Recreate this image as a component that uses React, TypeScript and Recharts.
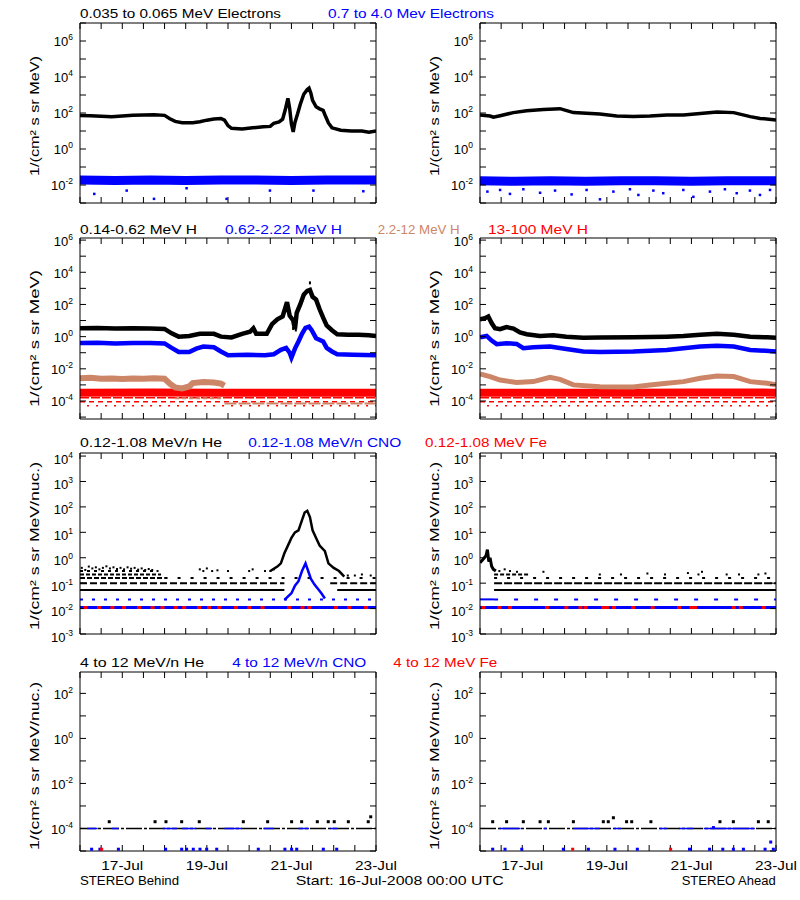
import React from 'react';
import { ComposedChart, Line, Scatter, XAxis, YAxis } from 'recharts';

type V = number | null;
type P = [number, V];

// ---------------- time axis: hours after Start 16-Jul-2008 00:00 UTC ----------------
const X_DOMAIN: [number, number] = [0, 168];
const X_TICK_HOURS = [0, 12, 24, 36, 48, 60, 72, 84, 96, 108, 120, 132, 144, 156, 168];
const X_LABEL_HOURS = [24, 72, 120, 168];
const X_LABELS = ['17-Jul', '19-Jul', '21-Jul', '23-Jul'];

// ---------------- y-axis decades per row ----------------
const R1_EXP = [-3, -2, -1, 0, 1, 2, 3, 4, 5, 6, 7];
const R1_LABEL_EXP = [-2, 0, 2, 4, 6];
const R2_EXP = [-5, -4, -3, -2, -1, 0, 1, 2, 3, 4, 5, 6];
const R2_LABEL_EXP = [-4, -2, 0, 2, 4, 6];
const R3_EXP = [-3, -2, -1, 0, 1, 2, 3, 4];
const R3_LABEL_EXP = [-3, -2, -1, 0, 1, 2, 3, 4];
const R4_EXP = [-5, -4, -3, -2, -1, 0, 1, 2];
const R4_LABEL_EXP = [-4, -2, 0, 2];

// ---------------- Row 1: electrons ----------------
const B_ELEC_LOW: P[] = [[0,72],[6,70],[12,66],[18,62],[24,68],[30,74],[36,78],[42,80],[48,74],[51,48],[54,34],[58,29],[64,29],[68,33],[72,40],[76,46],[80,50],[82,40],[84,20],[86,14],[92,13],[98,15],[104,17],[108,18],[110,27],[113,32],[115,45],[116.5,150],[118,650],[119,180],[120,25],[121,9],[122,30],[123.5,90],[125,300],[127,1100],[129,2000],[130,2400],[131,1300],[132,500],[134,220],[136,170],[138,140],[139,80],[141,28],[143,15],[148,11],[154,10],[160,10],[164,8.5],[168,10]];
const B_ELEC_HIGH: P[] = [[0,0.019],[20,0.018],[40,0.019],[60,0.018],[80,0.019],[100,0.019],[120,0.018],[140,0.019],[168,0.019]];
const B_ELEC_HIGH_OUT: P[] = [[8.1,0.0032],[26.5,0.0049],[42,0.0017],[60.5,0.0066],[83.2,0.0017],[107.8,0.0049],[132.5,0.0049],[160.8,0.0045]];
const A_ELEC_LOW: P[] = [[0,78],[5.7,68],[7.6,58],[11.4,71],[18.9,105],[26.5,135],[36,158],[45.4,174],[49.2,135],[53,105],[68,87],[77.6,68],[87,63],[96.5,68],[106,78],[115.5,78],[125,95],[134.5,115],[144,105],[153.4,63],[159,50],[168,41]];
const A_ELEC_HIGH: P[] = [[0,0.017],[20,0.016],[40,0.017],[60,0.016],[80,0.017],[100,0.017],[120,0.016],[140,0.017],[168,0.017]];
const A_ELEC_HIGH_OUT: P[] = [[4.2,0.0043],[11.4,0.0053],[17,0.0032],[24.6,0.0058],[34.1,0.0037],[42.6,0.0049],[52,0.003],[60.5,0.0053],[68.1,0.0016],[75.7,0.0043],[85.1,0.0058],[89.9,0.0028],[98.4,0.0049],[104,0.0035],[115.4,0.0053],[121.1,0.0022],[130.5,0.0043],[139,0.0058],[145.7,0.0035],[153.2,0.0049],[158.9,0.0028],[164.6,0.0053]];

// ---------------- Row 2: protons ----------------
const B_H_LOW: P[] = [[0,3.3],[10,3.5],[20,3.2],[30,3.3],[40,3.2],[48,3.0],[52,1.6],[56,1.0],[62,1.1],[68,1.5],[76,1.5],[80,1.0],[86,0.9],[92,1.5],[96.5,2.0],[98.4,3.3],[100,1.5],[106,1.5],[109,6],[112,12],[115,18],[116.5,60],[117.5,140],[119,20],[121,10],[122,3],[123,30],[125,100],[127,400],[129,700],[130.5,800],[132,300],[134,200],[136,50],[138,15],[140,5],[143,2.5],[146,1.4],[152,1.3],[158,1.3],[164,1.2],[168,1.1]];
const B_H_LOW_OUT: P[] = [[130.5,2200],[121,3.2],[122.5,2.6]];
const B_H_MID: P[] = [[0,0.4],[10,0.42],[20,0.38],[30,0.4],[40,0.4],[48,0.38],[52,0.2],[56,0.11],[62,0.11],[66,0.18],[70,0.24],[76,0.22],[80,0.12],[84,0.07],[95,0.075],[105,0.07],[110,0.08],[114,0.15],[117,0.2],[119,0.1],[120,0.05],[122,0.18],[124,0.5],[126,1.5],[128,3.5],[130,4.2],[131.5,2.5],[134,0.8],[138,0.5],[140,0.2],[143,0.12],[146,0.08],[155,0.075],[168,0.07]];
const B_H_HIGH: P[] = [[0,0.0026],[6,0.0028],[12,0.0024],[18,0.0025],[24,0.0023],[30,0.0025],[36,0.0024],[42,0.0026],[48,0.0024],[51,0.0012],[54,0.0007],[58,0.0006],[62,0.0008],[64,0.0013],[70,0.0015],[76,0.0014],[80,0.0012],[82,0.0009]];
const B_H_HIGH_FLOOR: P[] = [[82,7e-5],[168,7e-5]];
const B_H_HIGH_MID: P[] = [[54,1.5e-4],[82,1.5e-4]];
const B_H_VHIGH: P[] = [[0,3.3e-4],[40,3.4e-4],[80,3.2e-4],[120,3.3e-4],[168,3.3e-4]];
const B_H_VHIGH_L1: P[] = [[0,1.6e-4],[168,1.6e-4]];
const B_H_VHIGH_L2: P[] = [[0,9e-5],[168,9e-5]];
const B_H_VHIGH_L3: P[] = [[4,5e-5],[168,5e-5]];

const A_H_LOW: P[] = [[0,12],[2.8,14],[4.7,18],[6.6,7],[8.5,3.3],[11.4,2.9],[15,3.9],[19,3.2],[22.7,1.8],[26.5,1.4],[34,1.1],[41.6,1.2],[49,1.0],[58.6,0.86],[68,0.88],[87,0.91],[106,1.0],[115.5,1.1],[125,1.3],[134.5,1.5],[144,1.3],[153.4,1.0],[163,0.9],[168,0.86]];
const A_H_MID: P[] = [[0,0.9],[3.8,1.1],[6.6,0.57],[9.5,0.34],[15,0.39],[20.8,0.35],[24.6,0.19],[30.3,0.22],[39.7,0.24],[49,0.17],[58.6,0.12],[68,0.11],[87,0.12],[106,0.15],[115.5,0.19],[125,0.24],[134.5,0.27],[144,0.24],[153.4,0.15],[168,0.12]];
const A_H_HIGH: P[] = [[0,0.0048],[5.7,0.0033],[11.4,0.002],[20.8,0.0014],[30.3,0.0016],[39.7,0.003],[45.4,0.0022],[53,0.001],[68,0.00078],[87,0.00075],[96.5,0.001],[106,0.00126],[115.5,0.0016],[125,0.0026],[134.5,0.0036],[144,0.0033],[153.4,0.0016],[163,0.00126],[168,0.001]];
const A_H_VHIGH: P[] = [[0,3.3e-4],[40,3.2e-4],[80,3.3e-4],[120,3.4e-4],[168,3.3e-4]];
const A_H_VHIGH_L1: P[] = [[0,1.6e-4],[168,1.6e-4]];
const A_H_VHIGH_L2: P[] = [[0,9e-5],[168,9e-5]];
const A_H_VHIGH_L3: P[] = [[4,5e-5],[168,5e-5]];

// ---------------- Row 3: 0.12-1.08 MeV/n heavy ions ----------------
const B_HE_L1: P[] = [[0,0.054],[116,0.054],[116.5,null],[146,0.054],[168,0.054]];
const B_HE_L2: P[] = [[0,0.1],[116,0.1],[116.5,null],[142,0.1],[168,0.1]];
const B_HE_L3A: P[] = [[0,0.16],[48,0.16]];
const B_HE_L3B: P[] = [[48,0.16],[168,0.16]];
const B_HE_L4: P[] = [[0,0.22],[46,0.22]];
const B_HE_L5: P[] = [[0,0.3],[44,0.3]];
const B_HE_UPPER: P[] = [[1,0.4],[3,0.33],[5,0.45],[7,0.38],[9,0.42],[11,0.35],[13,0.4],[15,0.46],[17,0.38],[19,0.42],[21,0.36],[23,0.4],[25,0.35],[27,0.42],[29,0.37],[31,0.4],[33,0.34],[35,0.38],[37,0.33],[39,0.36],[41,0.33],[44,0.3],[68,0.35],[70,0.3],[72,0.38],[75,0.3],[78,0.32],[84,0.3],[96,0.3],[98,0.35],[105,0.3],[108,0.3],[110,0.35],[152,0.2],[156,0.2],[160,0.22],[165,0.2]];
const B_HE_PEAK: P[] = [[108,0.3],[112,0.45],[114,0.6],[116,1.5],[118,3],[120,6],[122,10],[124,12],[126,30],[127.5,60],[129,70],[130.5,40],[132,12],[134,6],[136,3],[139,1.8],[141,0.6],[144,0.4],[147,0.3],[150,0.18]];
const B_CNO_L1: P[] = [[0,0.011],[168,0.011]];
const B_CNO_L2: P[] = [[0,0.023],[168,0.023]];
const B_CNO_PEAK: P[] = [[116,0.022],[120,0.04],[122,0.08],[124,0.12],[126,0.3],[128,0.6],[129.5,0.3],[131,0.15],[133,0.09],[135,0.06],[137,0.04],[139,0.025]];
const B_FE_DOTS: P[] = [[3.2,0.011],[10.8,0.011],[18.4,0.011],[25,0.011],[33.5,0.011],[41.2,0.011],[46.8,0.011],[54.4,0.011],[59.1,0.011],[67.6,0.011],[73.3,0.011],[79,0.011],[88.5,0.011],[96.1,0.011],[103.6,0.011],[118.7,0.011],[126.3,0.011],[130.1,0.011],[145.3,0.011],[152.8,0.011],[162.3,0.011]];

const A_HE_SPIKE: P[] = [[0,0.63],[1.9,0.9],[3.4,1.2],[4.2,2.1],[5,0.7],[5.7,1.0],[6.6,0.46],[7.6,0.35],[9,0.3]];
const A_HE_L1: P[] = [[8,0.054],[168,0.054]];
const A_HE_L2: P[] = [[8,0.1],[168,0.1]];
const A_HE_L3: P[] = [[8,0.16],[168,0.16]];
const A_HE_L4: P[] = [[8,0.22],[28,0.22]];
const A_HE_UPPER: P[] = [[11,0.3],[14,0.35],[17,0.3],[21,0.28],[36,0.28],[68,0.22],[80,0.22],[95,0.24],[105,0.22],[118,0.25],[124,0.22],[126,0.28],[140,0.22],[147,0.22],[158,0.22],[162,0.24]];
const A_CNO_L1: P[] = [[0,0.011],[168,0.011]];
const A_CNO_L2A: P[] = [[0,0.023],[8,0.023]];
const A_CNO_L2B: P[] = [[8,0.023],[168,0.023]];
const A_FE_DOTS: P[] = [[2,0.011],[11,0.011],[17,0.011],[38,0.011],[49,0.011],[57,0.011],[60,0.011],[70,0.011],[72,0.011],[76,0.011],[87,0.011],[98,0.011],[113,0.011],[120,0.011],[122,0.011],[144,0.011],[148,0.011],[161,0.011]];

// ---------------- Row 4: 4-12 MeV/n heavy ions ----------------
const B_HE4_LEVEL: P[] = [[0,1e-4],[168,1e-4]];
const B_HE4_DOTS: P[] = [[16.6,2e-4],[42.6,2e-4],[48.8,2e-4],[57.7,2e-4],[67.7,2e-4],[92.7,2e-4],[106.5,2e-4],[120.1,2e-4],[125.8,2e-4],[134.7,2e-4],[140.9,2e-4],[144.3,2e-4],[152.3,2e-4],[163.6,2e-4],[165,3.3e-4]];
const B_CNO4_LEVEL: P[] = [[4,1e-4],[10,1e-4],[10.5,null],[18,1e-4],[22,1e-4],[22.5,null],[47,1e-4],[55,1e-4],[55.5,null],[58,1e-4],[66,1e-4],[66.5,null],[71,1e-4],[75,1e-4],[75.5,null],[82,1e-4],[92,1e-4],[92.5,null],[104,1e-4],[110,1e-4],[110.5,null],[124,1e-4],[130,1e-4],[130.5,null],[142,1e-4],[146,1e-4]];
const B_CNO4_DOTS: P[] = [[6.6,1.2e-5],[11.3,1.2e-5],[21.8,1.2e-5],[48.6,1.2e-5],[57.7,1.2e-5],[60.5,1.2e-5],[64.3,1.2e-5],[68.1,1.2e-5],[71.9,1.2e-5],[77.6,1.2e-5],[101.2,1.2e-5],[116.3,1.2e-5],[120.1,1.2e-5],[123,1.2e-5],[138.1,1.2e-5],[145.7,1.2e-5]];
const B_FE4_DOTS: P[] = [[12.3,1.2e-5]];

const A_HE4_LEVEL: P[] = [[0,1e-4],[168,1e-4]];
const A_HE4_DOTS: P[] = [[7.2,2e-4],[15.1,2e-4],[24.6,2e-4],[34.1,2e-4],[38.8,2e-4],[53,2e-4],[70,2e-4],[72.8,2e-4],[75.7,3e-4],[83.2,2e-4],[86.1,2e-4],[97,2e-4],[136.2,2e-4],[143.8,2e-4],[158,2e-4],[163.6,2e-4]];
const A_CNO4_LEVEL: P[] = [[11,1e-4],[23,1e-4],[23.5,null],[36,1e-4],[38,1e-4],[38.5,null],[53,1e-4],[68,1e-4],[68.5,null],[76,1e-4],[80,1e-4],[80.5,null],[102,1e-4],[106,1e-4],[106.5,null],[113,1e-4],[121,1e-4],[121.5,null],[127,1e-4],[156,1e-4]];
const A_CNO4_DOTS: P[] = [[7.2,1.2e-5],[14.2,1.2e-5],[23.7,1.2e-5],[47.3,1.2e-5],[61.5,1.2e-5],[76.6,1.2e-5],[89.3,1.2e-5],[118.9,1.2e-5],[130.3,1.2e-5],[132.5,1.1e-4],[137.8,1.2e-5],[143.8,1.2e-5],[149.5,1.2e-5],[161.8,1.2e-5],[165,2.5e-5],[166.5,1.2e-5]];
const A_FE4_DOTS: P[] = [[52.6,1.2e-5],[108.2,1.2e-5]];

// ---------------- styling ----------------
const FONT = '"Liberation Sans", Arial, Helvetica, sans-serif';
const BLACK = '#000000';
const BLUE = '#0000ff';
const TAN = '#cd8568';
const RED = '#ff0000';

type Series = { data: P[]; color: string; w?: number; dash?: string; dot?: [number, number] };
const L = (data: P[], color: string, w: number, dash?: string): Series => ({ data, color, w, dash });
const D = (data: P[], color: string, dw: number, dh: number): Series => ({ data, color, dot: [dw, dh] });

const rows = (a: P[]) => a.map(([h, v]) => ({ h, v }));

const Empty = () => <g />;

const makeYTick = (labelled: number[], shift: number) => (props: any) => {
  const { x, y, payload } = props;
  const e = Math.round(Math.log10(payload.value));
  if (!labelled.includes(e)) return <g />;
  return (
    <text x={x} y={y + 5 + shift} textAnchor="end" fontFamily={FONT} fontSize={13} fill="#000">
      10<tspan dy={-6} fontSize={8.5}>{String(e)}</tspan>
    </text>
  );
};

const XTick = (props: any) => {
  const { x, y, payload } = props;
  const i = X_LABEL_HOURS.indexOf(payload.value);
  if (i < 0) return <g />;
  return (
    <text x={x} y={y + 9} textAnchor="middle" fontFamily={FONT} fontSize={13} fill="#000" textLength={42} lengthAdjust="spacingAndGlyphs">
      {X_LABELS[i]}
    </text>
  );
};

type PanelProps = {
  x0: number; top: number; h: number; domain: [number, number];
  exps: number[]; labelExps: number[]; shift: number; series: Series[]; showX: boolean;
};

function Panel({ x0, top, h, domain, exps, labelExps, shift, series, showX }: PanelProps) {
  const ticks = exps.map((e) => Math.pow(10, e));
  const yTick = makeYTick(labelExps, shift);
  return (
    <div style={{ position: 'absolute', left: x0 - 80, top: top - 20, width: 400, height: h + 50 }}>
      <ComposedChart width={400} height={h + 50} margin={{ top: 0, right: 0, bottom: 0, left: 0 }}>
        <XAxis dataKey="h" type="number" domain={X_DOMAIN} ticks={X_TICK_HOURS} interval={0} height={30}
          tickSize={-6} tickMargin={16} stroke="#000" tick={showX ? XTick : Empty} allowDataOverflow />
        <XAxis xAxisId="top" orientation="top" dataKey="h" type="number" domain={X_DOMAIN} ticks={X_TICK_HOURS}
          interval={0} height={20} tickSize={-6} stroke="#000" tick={Empty} allowDataOverflow />
        <YAxis dataKey="v" type="number" scale="log" domain={domain} ticks={ticks} interval={0} width={80}
          tickSize={-6} tickMargin={13} stroke="#000" tick={yTick} allowDataOverflow />
        <YAxis yAxisId="right" orientation="right" dataKey="v" type="number" scale="log" domain={domain} ticks={ticks}
          interval={0} width={24} tickSize={-6} stroke="#000" tick={Empty} allowDataOverflow />
        {series.map((s, i) =>
          s.dot ? (
            <Scatter key={i} data={rows(s.data)} dataKey="v" isAnimationActive={false}
              shape={(p: any) => (
                <rect x={p.cx - s.dot![0] / 2} y={p.cy - s.dot![1] / 2} width={s.dot![0]} height={s.dot![1]} fill={s.color} />
              )} />
          ) : (
            <Line key={i} data={rows(s.data)} dataKey="v" type="linear" stroke={s.color} strokeWidth={s.w}
              strokeDasharray={s.dash} dot={false} activeDot={false} connectNulls={false} isAnimationActive={false} />
          )
        )}
      </ComposedChart>
    </div>
  );
}

const ROW1 = { top: 23, h: 180, domain: [1e-3, 1e7] as [number, number], exps: R1_EXP, labelExps: R1_LABEL_EXP, shift: 0 };
const ROW2 = { top: 238, h: 181, domain: [7.6e-6, 1.35e6] as [number, number], exps: R2_EXP, labelExps: R2_LABEL_EXP, shift: 0.5 };
const ROW3 = { top: 453, h: 181, domain: [1e-3, 1.32e4] as [number, number], exps: R3_EXP, labelExps: R3_LABEL_EXP, shift: 2.5 };
const ROW4 = { top: 672, h: 179, domain: [1e-5, 891] as [number, number], exps: R4_EXP, labelExps: R4_LABEL_EXP, shift: 0.5 };

const PANELS: PanelProps[] = [
  { ...ROW1, x0: 80, showX: false, series: [
    L(B_ELEC_HIGH, BLUE, 9), D(B_ELEC_HIGH_OUT, BLUE, 2.5, 2.5), L(B_ELEC_LOW, BLACK, 3.5),
  ] },
  { ...ROW1, x0: 480, showX: false, series: [
    L(A_ELEC_HIGH, BLUE, 9), D(A_ELEC_HIGH_OUT, BLUE, 2.5, 2.5), L(A_ELEC_LOW, BLACK, 3.5),
  ] },
  { ...ROW2, x0: 80, showX: false, series: [
    L(B_H_VHIGH_L3, RED, 1.5, '2 7'), L(B_H_VHIGH_L2, RED, 1.5, '5 4'), L(B_H_HIGH_FLOOR, TAN, 2, '12 2'),
    L(B_H_VHIGH_L1, RED, 1.5, '9 2'), L(B_H_HIGH_MID, TAN, 2, '4 3'), L(B_H_VHIGH, RED, 8),
    L(B_H_HIGH, TAN, 6), L(B_H_MID, BLUE, 4.5), L(B_H_LOW, BLACK, 4.5), D(B_H_LOW_OUT, BLACK, 2, 3),
  ] },
  { ...ROW2, x0: 480, showX: false, series: [
    L(A_H_VHIGH_L3, RED, 1.5, '2 7'), L(A_H_VHIGH_L2, RED, 1.5, '5 4'), L(A_H_VHIGH_L1, RED, 1.5, '9 2'),
    L(A_H_VHIGH, RED, 8), L(A_H_HIGH, TAN, 5), L(A_H_MID, BLUE, 4.5), L(A_H_LOW, BLACK, 4.5),
  ] },
  { ...ROW3, x0: 80, showX: false, series: [
    L(B_CNO_L2, BLUE, 2, '3 9'), L(B_CNO_L1, BLUE, 3), D(B_FE_DOTS, RED, 4, 3),
    L(B_HE_L1, BLACK, 2), L(B_HE_L2, BLACK, 2, '7 3'), L(B_HE_L3A, BLACK, 2, '5 2'), L(B_HE_L3B, BLACK, 2, '3 10'),
    L(B_HE_L4, BLACK, 2, '4 2'), L(B_HE_L5, BLACK, 2, '3 4'), D(B_HE_UPPER, BLACK, 2, 2),
    L(B_HE_PEAK, BLACK, 2.5), L(B_CNO_PEAK, BLUE, 2.5),
  ] },
  { ...ROW3, x0: 480, showX: false, series: [
    L(A_CNO_L2A, BLUE, 2), L(A_CNO_L2B, BLUE, 2, '4 16'), L(A_CNO_L1, BLUE, 3), D(A_FE_DOTS, RED, 4, 3),
    L(A_HE_L1, BLACK, 2), L(A_HE_L2, BLACK, 2, '8 2'), L(A_HE_L3, BLACK, 2, '3 10'), L(A_HE_L4, BLACK, 2, '4 2'),
    D(A_HE_UPPER, BLACK, 2, 2), L(A_HE_SPIKE, BLACK, 3),
  ] },
  { ...ROW4, x0: 80, showX: true, series: [
    L(B_HE4_LEVEL, BLACK, 1.5, '16 2 3 2'), L(B_CNO4_LEVEL, BLUE, 1.5), D(B_HE4_DOTS, BLACK, 3, 3),
    D(B_CNO4_DOTS, BLUE, 3, 3), D(B_FE4_DOTS, RED, 3, 3),
  ] },
  { ...ROW4, x0: 480, showX: true, series: [
    L(A_HE4_LEVEL, BLACK, 1.5, '16 2 3 2'), L(A_CNO4_LEVEL, BLUE, 1.5), D(A_HE4_DOTS, BLACK, 3, 3),
    D(A_CNO4_DOTS, BLUE, 3, 3), D(A_FE4_DOTS, RED, 3, 3),
  ] },
];

const TITLES = [
  { t: '0.035 to 0.065 MeV Electrons', x: 80, y: 18.3, len: 201, c: BLACK },
  { t: '0.7 to 4.0 Mev Electrons', x: 328, y: 18.3, len: 166, c: BLUE },
  { t: '0.14-0.62 MeV H', x: 80, y: 234, len: 117, c: BLACK },
  { t: '0.62-2.22 MeV H', x: 225, y: 234, len: 117, c: BLUE },
  { t: '2.2-12 MeV H', x: 377.7, y: 234, len: 82, c: TAN },
  { t: '13-100 MeV H', x: 488, y: 234, len: 100, c: RED },
  { t: '0.12-1.08 MeV/n He', x: 80, y: 447, len: 142, c: BLACK },
  { t: '0.12-1.08 MeV/n CNO', x: 248.3, y: 447, len: 153, c: BLUE },
  { t: '0.12-1.08 MeV Fe', x: 425, y: 447, len: 122, c: RED },
  { t: '4 to 12 MeV/n He', x: 80, y: 666.7, len: 124, c: BLACK },
  { t: '4 to 12 MeV/n CNO', x: 232.3, y: 666.7, len: 134, c: BLUE },
  { t: '4 to 12 MeV Fe', x: 393.3, y: 666.7, len: 104, c: RED },
  { t: 'STEREO Behind', x: 80, y: 885, len: 99, c: BLACK },
  { t: 'Start: 16-Jul-2008 00:00 UTC', x: 295.7, y: 885, len: 208, c: BLACK },
  { t: 'STEREO Ahead', x: 681.7, y: 885, len: 94, c: BLACK },
];

const Y_TITLES = [
  { t: '1/(cm² s sr MeV)', cy: 116, len: 120 },
  { t: '1/(cm² s sr MeV)', cy: 338.5, len: 137 },
  { t: '1/(cm² s sr MeV/nuc.)', cy: 546, len: 168 },
  { t: '1/(cm² s sr MeV/nuc.)', cy: 766, len: 168 },
];

export default function App() {
  return (
    <div style={{ position: 'absolute', left: 0, top: 0, width: 800, height: 900, background: '#fff', overflow: 'hidden' }}>
      {PANELS.map((p, i) => <Panel key={i} {...p} />)}
      <svg width={800} height={900} style={{ position: 'absolute', left: 0, top: 0, pointerEvents: 'none' }}>
        {TITLES.map((d, i) => (
          <text key={i} x={d.x} y={d.y} fill={d.c} fontFamily={FONT} fontSize={13} textLength={d.len} lengthAdjust="spacingAndGlyphs">
            {d.t}
          </text>
        ))}
        {[39, 439].map((bx) =>
          Y_TITLES.map((d, i) => (
            <text key={bx + '-' + i} x={bx} y={d.cy} transform={`rotate(-90 ${bx} ${d.cy})`} textAnchor="middle"
              fill="#000" fontFamily={FONT} fontSize={13} textLength={d.len} lengthAdjust="spacingAndGlyphs">
              {d.t}
            </text>
          ))
        )}
      </svg>
    </div>
  );
}
